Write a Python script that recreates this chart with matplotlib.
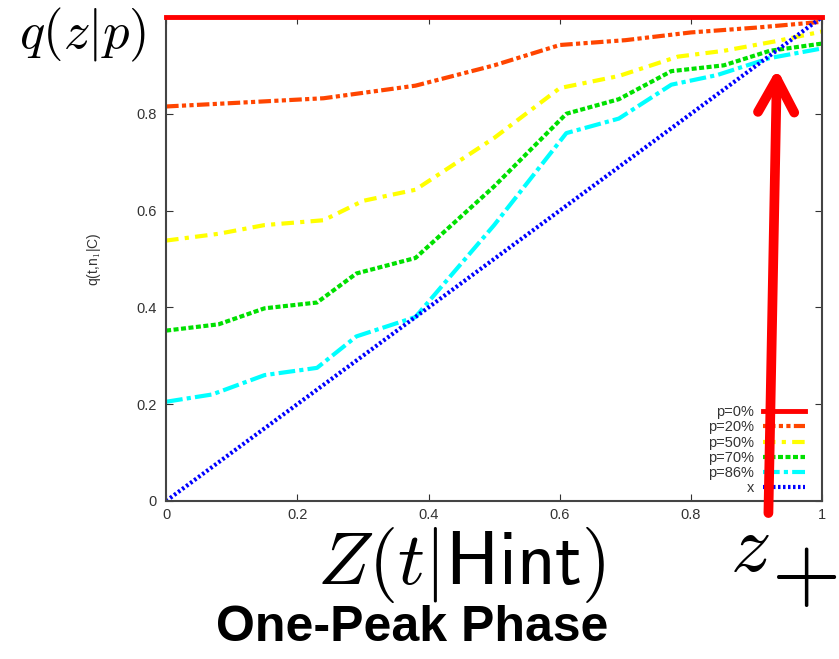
import matplotlib
matplotlib.use("Agg")
import matplotlib.pyplot as plt

plt.rcParams['mathtext.fontset'] = 'cm'
plt.rcParams['font.family'] = ['Liberation Sans', 'DejaVu Sans']

# curves
x20 = [0, 0.1, 0.24, 0.38, 0.5, 0.6, 0.7, 0.8, 0.9, 1.0]
y20 = [0.815, 0.822, 0.832, 0.858, 0.9, 0.942, 0.952, 0.968, 0.978, 0.99]

x50 = [0, 0.08, 0.15, 0.24, 0.3, 0.38, 0.5, 0.6, 0.69, 0.78, 0.85, 0.93, 1.0]
y50 = [0.538, 0.552, 0.57, 0.58, 0.62, 0.643, 0.75, 0.853, 0.878, 0.918, 0.93, 0.95, 0.97]

x70 = [0, 0.08, 0.15, 0.23, 0.29, 0.38, 0.5, 0.61, 0.69, 0.77, 0.85, 0.92, 1.0]
y70 = [0.352, 0.365, 0.398, 0.41, 0.47, 0.502, 0.65, 0.8, 0.83, 0.888, 0.9, 0.93, 0.945]

x86 = [0, 0.07, 0.15, 0.23, 0.29, 0.38, 0.5, 0.61, 0.69, 0.77, 0.84, 0.92, 1.0]
y86 = [0.205, 0.22, 0.26, 0.275, 0.34, 0.38, 0.57, 0.76, 0.79, 0.86, 0.88, 0.915, 0.935]

xdiag = [0, 1]
ydiag = [0, 1]

fig = plt.figure(figsize=(8.39, 6.59), dpi=100)
ax = fig.add_axes([0.198, 0.2398, 0.782, 0.7345])

ax.plot([0, 1], [1, 1], color='#ff0000', lw=3.5, label='p=0%', clip_on=False, zorder=5)
ax.plot(x20, y20, color='#ff4500', lw=3, dashes=(3, 0.8, 1, 0.8, 1, 0.8), label='p=20%')
ax.plot(x50, y50, color='#ffff00', lw=3, dashes=(3, 1.5, 1, 1.5), label='p=50%')
ax.plot(x70, y70, color='#00e000', lw=3, dashes=(1.2, 0.6), label='p=70%')
ax.plot(x86, y86, color='#00ffff', lw=3, dashes=(4, 1, 1, 1), label='p=86%')
ax.plot(xdiag, ydiag, color='#0000ff', lw=3, dashes=(0.6, 0.6), label='x')

ax.set_xlim(0, 1)
ax.set_ylim(0, 1)
ax.set_xticks([0, 0.2, 0.4, 0.6, 0.8, 1])
ax.set_xticklabels(['0', '0.2', '0.4', '0.6', '0.8', '1'])
ax.set_yticks([0, 0.2, 0.4, 0.6, 0.8])
ax.set_yticklabels(['0', '0.2', '0.4', '0.6', '0.8'])
ax.tick_params(direction='in', top=True, right=True, labelsize=10.5, length=5,
               colors='#333333')
ax.tick_params(axis='y', pad=7)
ax.tick_params(axis='x', pad=5)
for s in ax.spines.values():
    s.set_color('#444444')
    s.set_linewidth(1.5)

ax.set_ylabel(r'q(t,n$_1$|C)', fontsize=10, color='#333333')
ax.yaxis.set_label_coords(-0.096, 0.5)

leg = ax.legend(loc='lower right', bbox_to_anchor=(0.974, 0.012), frameon=False,
                markerfirst=False, fontsize=10.5, handlelength=2.9,
                labelspacing=0.08, handletextpad=0.6, borderpad=0,
                borderaxespad=0)
for t in leg.get_texts():
    t.set_color('#333333')

# big red arrow, slightly tilted
ax.annotate('', xy=(0.931, 0.893), xytext=(0.918, -0.025),
            arrowprops=dict(arrowstyle='->,head_length=1.6,head_width=0.87',
                            mutation_scale=15, color='#ff0000', lw=7,
                            shrinkA=0, shrinkB=0,
                            joinstyle='round', capstyle='round'),
            annotation_clip=False, zorder=10)

fig.text(0.098, 0.947, r'$q(z|p)$', fontsize=38, ha='center', va='center')
fig.text(0.55, 0.142, r'$Z(t|\mathsf{Hint})$', fontsize=54, ha='center', va='center')
fig.text(0.894, 0.165, r'$z$', fontsize=58, ha='center', va='center')
fig.text(0.958, 0.124, r'$+$', fontsize=64, ha='center', va='center')
fig.text(0.491, 0.047, 'One-Peak Phase', fontsize=36, fontweight='bold',
         ha='center', va='center')

fig.savefig('out.png', dpi=100)
